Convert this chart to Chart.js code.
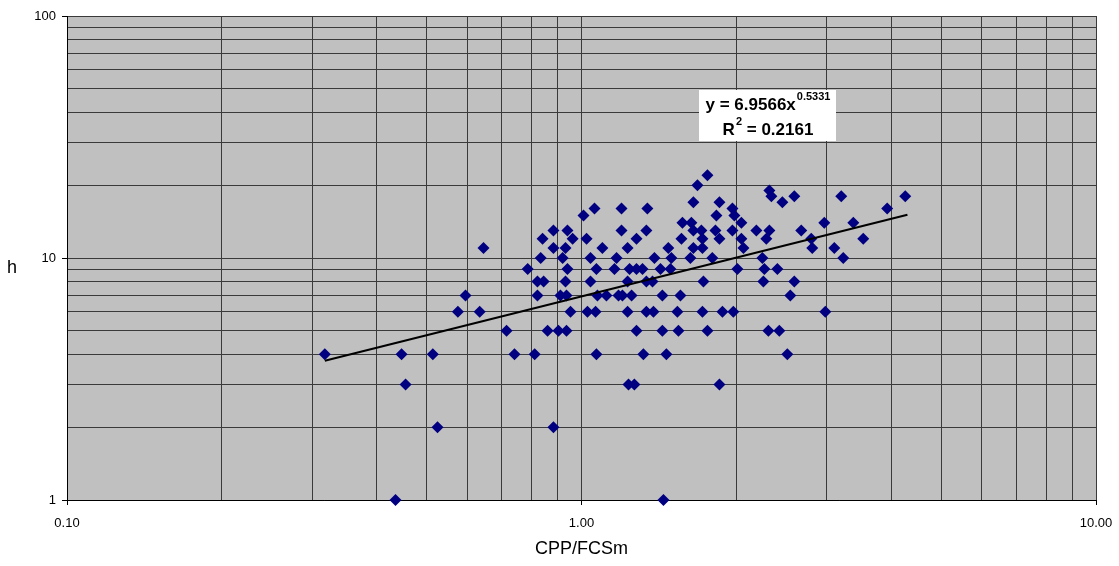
<!DOCTYPE html>
<html>
<head>
<meta charset="utf-8">
<script src="https://cdn.jsdelivr.net/npm/chart.js@4.4.1/dist/chart.umd.min.js"></script>
<style>
  html, body { margin: 0; padding: 0; background: #fff; }
  #wrap { width: 1119px; height: 566px; }
</style>
</head>
<body>
<div id="wrap"><canvas id="chart"></canvas></div>
<script>
// CPP/FCSm (x) and h (y) for every paper, grouped by h level
const cppValues = [
  0.435, 1.443,                                                              // h = 1
  0.525, 0.882,                                                              // h = 2
  0.455, 1.234, 1.267, 1.854,                                                // h = 3
  0.317, 0.447, 0.514, 0.741, 0.811, 1.069, 1.319, 1.462, 2.512,             // h = 4
  0.715, 0.859, 0.902, 0.935, 1.279, 1.436, 1.543, 1.757, 2.308, 2.424,      // h = 5
  0.575, 0.634, 0.952, 1.027, 1.065, 1.229, 1.337, 1.380, 1.536, 1.718, 1.879, 1.973, 2.978, // h = 6
  0.595, 0.821, 0.910, 0.935, 1.074, 1.118, 1.180, 1.201, 1.251, 1.436, 1.557, 2.546,        // h = 7
  0.821, 0.844, 0.931, 1.041, 1.229, 1.337, 1.374, 1.726, 2.257, 2.592,      // h = 8
  0.786, 0.939, 1.069, 1.159, 1.240, 1.279, 1.314, 1.424, 1.489, 2.009, 2.267, 2.403,        // h = 9
  0.833, 0.919, 1.041, 1.170, 1.386, 1.495, 1.628, 1.796, 2.247, 3.227,      // h = 10
  0.645, 0.882, 0.931, 1.098, 1.229, 1.475, 1.650, 1.718, 2.064, 2.809, 3.100,               // h = 11
  0.840, 0.961, 1.023, 1.279, 1.564, 1.718, 1.854, 2.045, 2.287, 2.796, 3.529,               // h = 12
  0.882, 0.939, 1.196, 1.337, 1.650, 1.710, 1.821, 1.965, 2.187, 2.318, 2.674,               // h = 13
  1.571, 1.635, 2.045, 2.964, 3.375,                                         // h = 14
  1.009, 1.829, 1.982,                                                       // h = 15
  1.060, 1.196, 1.343, 1.965, 3.928,                                         // h = 16
  1.650, 1.854, 2.457,                                                       // h = 17
  2.339, 2.592, 3.198, 4.258,                                                // h = 18
  2.318,                                                                     // h = 19
  1.680,                                                                     // h = 20
  1.757                                                                      // h = 22
];
const hValues = [
  1, 1,
  2, 2,
  3, 3, 3, 3,
  4, 4, 4, 4, 4, 4, 4, 4, 4,
  5, 5, 5, 5, 5, 5, 5, 5, 5, 5,
  6, 6, 6, 6, 6, 6, 6, 6, 6, 6, 6, 6, 6,
  7, 7, 7, 7, 7, 7, 7, 7, 7, 7, 7, 7,
  8, 8, 8, 8, 8, 8, 8, 8, 8, 8,
  9, 9, 9, 9, 9, 9, 9, 9, 9, 9, 9, 9,
  10, 10, 10, 10, 10, 10, 10, 10, 10, 10,
  11, 11, 11, 11, 11, 11, 11, 11, 11, 11, 11,
  12, 12, 12, 12, 12, 12, 12, 12, 12, 12, 12,
  13, 13, 13, 13, 13, 13, 13, 13, 13, 13, 13,
  14, 14, 14, 14, 14,
  15, 15, 15,
  16, 16, 16, 16, 16,
  17, 17, 17,
  18, 18, 18, 18,
  19,
  20,
  22
];

// power trendline ends (y = 6.9566x^0.5331)
const trendX = [0.317, 4.3];
const trendY = [3.76, 15.1];
const trendLabel = ['y = 6.9566x', '0.5331'];
const r2Label = ['R', '2', ' = 0.2161'];

// log grid lines and labelled ticks
const xGrid = [0.1, 0.2, 0.3, 0.4, 0.5, 0.6, 0.7, 0.8, 0.9, 1, 2, 3, 4, 5, 6, 7, 8, 9, 10];
const yGrid = [1, 2, 3, 4, 5, 6, 7, 8, 9, 10, 20, 30, 40, 50, 60, 70, 80, 90, 100];
const xLabelled = [0.1, 1, 10];
const yLabelled = [1, 10, 100];

const FONT = '"Liberation Sans", Arial, sans-serif';

const plotBg = {
    id: 'plotBg',
    beforeDraw(chart) {
        const { ctx, chartArea: a } = chart;
        ctx.save();
        ctx.fillStyle = '#c0c0c0';
        ctx.fillRect(a.left, a.top, a.right - a.left, a.bottom - a.top);
        ctx.restore();
    }
};

const extraText = {
    id: 'extraText',
    afterDraw(chart) {
        const ctx = chart.ctx;
        ctx.save();
        // y axis title, written upright
        ctx.fillStyle = '#000';
        ctx.font = '18px ' + FONT;
        ctx.textAlign = 'center';
        ctx.textBaseline = 'middle';
        ctx.fillText('h', 12, 268);

        // trendline label box
        const bx = 699, by = 90, bw = 137, bh = 51;
        ctx.fillStyle = '#fff';
        ctx.fillRect(bx, by, bw, bh);
        ctx.fillStyle = '#000';
        ctx.textAlign = 'left';
        ctx.textBaseline = 'alphabetic';
        const big = 'bold 17px ' + FONT, small = 'bold 11px ' + FONT;
        const cx = bx + bw / 2;

        ctx.font = big;
        const w1 = ctx.measureText(trendLabel[0]).width;
        ctx.font = small;
        const w2 = ctx.measureText(trendLabel[1]).width;
        let x = cx - (w1 + w2) / 2;
        ctx.font = big;
        ctx.fillText(trendLabel[0], x, 110);
        ctx.font = small;
        ctx.fillText(trendLabel[1], x + w1 + 1, 100);

        ctx.font = big;
        const r1 = ctx.measureText(r2Label[0]).width;
        const r3 = ctx.measureText(r2Label[2]).width;
        ctx.font = small;
        const r2 = ctx.measureText(r2Label[1]).width;
        x = cx - (r1 + r2 + r3) / 2;
        ctx.font = big;
        ctx.fillText(r2Label[0], x, 135);
        ctx.font = small;
        ctx.fillText(r2Label[1], x + r1 + 1, 125);
        ctx.font = big;
        ctx.fillText(r2Label[2], x + r1 + r2 + 1, 135);
        ctx.restore();
    }
};

const points = cppValues.map((v, i) => ({ x: v, y: hValues[i] }));
const trend = trendX.map((v, i) => ({ x: v, y: trendY[i] }));

new Chart(document.getElementById('chart'), {
    type: 'scatter',
    data: {
        datasets: [
            {
                label: 'Power (h)',
                data: trend,
                showLine: true,
                borderColor: '#000',
                borderWidth: 2,
                pointRadius: 0,
                fill: false
            },
            {
                label: 'h',
                data: points,
                pointStyle: 'rectRot',
                pointRadius: 6,
                pointBackgroundColor: '#000080',
                pointBorderColor: '#000080',
                pointBorderWidth: 0,
                clip: false
            }
        ]
    },
    plugins: [plotBg, extraText],
    options: {
        responsive: true,
        maintainAspectRatio: false,
        animation: false,
        layout: { padding: { left: 0, right: 23, top: 16, bottom: 0 } },
        plugins: {
            legend: { display: false },
            tooltip: { enabled: false }
        },
        scales: {
            x: {
                type: 'logarithmic',
                min: 0.1,
                max: 10,
                afterBuildTicks: s => { s.ticks = xGrid.map(v => ({ value: v })); },
                afterFit: s => { s.height = 66; s.paddingLeft = 0; s.paddingRight = 0; },
                ticks: {
                    autoSkip: false,
                    maxRotation: 0,
                    color: '#000',
                    padding: 11,
                    font: { family: FONT, size: 13 },
                    callback: v => xLabelled.includes(v) ? v.toFixed(2) : ''
                },
                grid: {
                    color: '#3a3a3a',
                    lineWidth: 1,
                    tickLength: 5,
                    tickColor: c => (c.tick && xLabelled.includes(c.tick.value)) ? '#000' : 'rgba(0,0,0,0)'
                },
                border: { color: '#000', width: 1 },
                title: {
                    display: true,
                    text: 'CPP/FCSm',
                    color: '#000',
                    font: { family: FONT, size: 18 },
                    padding: { top: 0, bottom: 6 }
                }
            },
            y: {
                type: 'logarithmic',
                min: 1,
                max: 100,
                afterBuildTicks: s => { s.ticks = yGrid.map(v => ({ value: v })); },
                afterFit: s => { s.width = 67; s.paddingTop = 0; s.paddingBottom = 0; },
                ticks: {
                    autoSkip: false,
                    color: '#000',
                    padding: 6,
                    font: { family: FONT, size: 13 },
                    callback: v => yLabelled.includes(v) ? String(v) : ''
                },
                grid: {
                    color: '#3a3a3a',
                    lineWidth: 1,
                    tickLength: 5,
                    tickColor: c => (c.tick && yLabelled.includes(c.tick.value)) ? '#000' : 'rgba(0,0,0,0)'
                },
                border: { color: '#000', width: 1 }
            }
        }
    }
});
</script>
</body>
</html>
